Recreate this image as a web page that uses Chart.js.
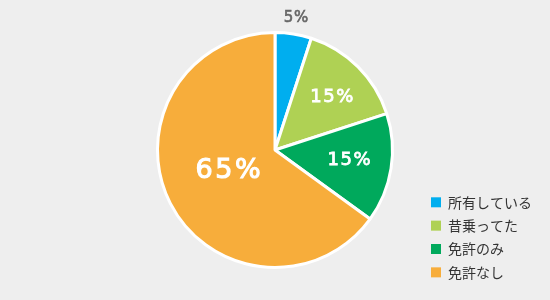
<!DOCTYPE html>
<html><head><meta charset="utf-8">
<script src="https://cdn.jsdelivr.net/npm/chart.js@4"></script>
<style>html,body{margin:0;padding:0;background:#eeeeee;}#wrap{width:550px;height:300px;position:relative;}</style>
</head><body><div id="wrap"><canvas id="c" width="550" height="300"></canvas></div>
<script>
const categories = ['所有している', '昔乗ってた', '免許のみ', '免許なし'];
const values = [5, 15, 15, 65];
const valueLabels = ['5%', '15%', '15%', '65%'];
const colors = ['#00aeef', '#afd154', '#00a95c', '#f7ad3b'];

function spacedText(ctx, text, cx, cy, spacing, stroke) {
  const chars = Array.from(text);
  const widths = chars.map(ch => ctx.measureText(ch).width);
  const total = widths.reduce((a, b) => a + b, 0) + spacing * (chars.length - 1);
  let x = cx - total / 2;
  ctx.textAlign = 'left';
  chars.forEach((ch, i) => {
    ctx.fillText(ch, x, cy);
    if (stroke) ctx.strokeText(ch, x, cy);
    x += widths[i] + spacing;
  });
}

const labelPlugin = {
  id: 'labels',
  afterDatasetsDraw(chart) {
    const ctx = chart.ctx;
    const meta = chart.getDatasetMeta(0);
    const rf = [1.14, 0.66, 0.63, 0.42];
    const sizes = [15, 18, 18, 27];
    const sp = [0.8, 1.5, 1.5, 2.5];
    const sw = [0.6, 0.8, 0.8, 1.1];
    const dx = [0, 2, 1, -3];
    const dy = [0, 2, -1, -1];
    const cols = ['#666666', '#ffffff', '#ffffff', '#ffffff'];
    meta.data.forEach((arc, i) => {
      const p = arc.getProps(['x','y','startAngle','endAngle','outerRadius'], true);
      const a = (p.startAngle + p.endAngle) / 2;
      const r = p.outerRadius * rf[i];
      ctx.save();
      ctx.font = sizes[i] + 'px "DejaVu Sans", sans-serif';
      ctx.fillStyle = cols[i];
      ctx.strokeStyle = cols[i];
      ctx.lineWidth = sw[i];
      ctx.textBaseline = 'middle';
      const x = p.x + Math.cos(a) * r + dx[i];
      const y = p.y + Math.sin(a) * r + dy[i];
      spacedText(ctx, valueLabels[i], x, y, sp[i], true);
      ctx.restore();
    });
    // legend
    ctx.save();
    ctx.font = '14px "Noto Sans CJK JP", sans-serif';
    ctx.textBaseline = 'middle';
    categories.forEach((c, i) => {
      const y = 202.3 + i * 23.35;
      ctx.fillStyle = colors[i];
      ctx.fillRect(431, y - 5, 10, 10);
      ctx.fillStyle = '#333333';
      ctx.fillText(c, 448, y);
    });
    ctx.restore();
  }
};

new Chart(document.getElementById('c'), {
  type: 'pie',
  data: { labels: categories, datasets: [{ data: values, backgroundColor: colors, borderColor: '#ffffff', borderWidth: 3 }] },
  options: {
    responsive: false,
    animation: false,
    layout: { padding: { top: 31, bottom: 31, left: 156, right: 156 } },
    plugins: { legend: { display: false }, tooltip: { enabled: false } }
  },
  plugins: [labelPlugin]
});
</script></body></html>
